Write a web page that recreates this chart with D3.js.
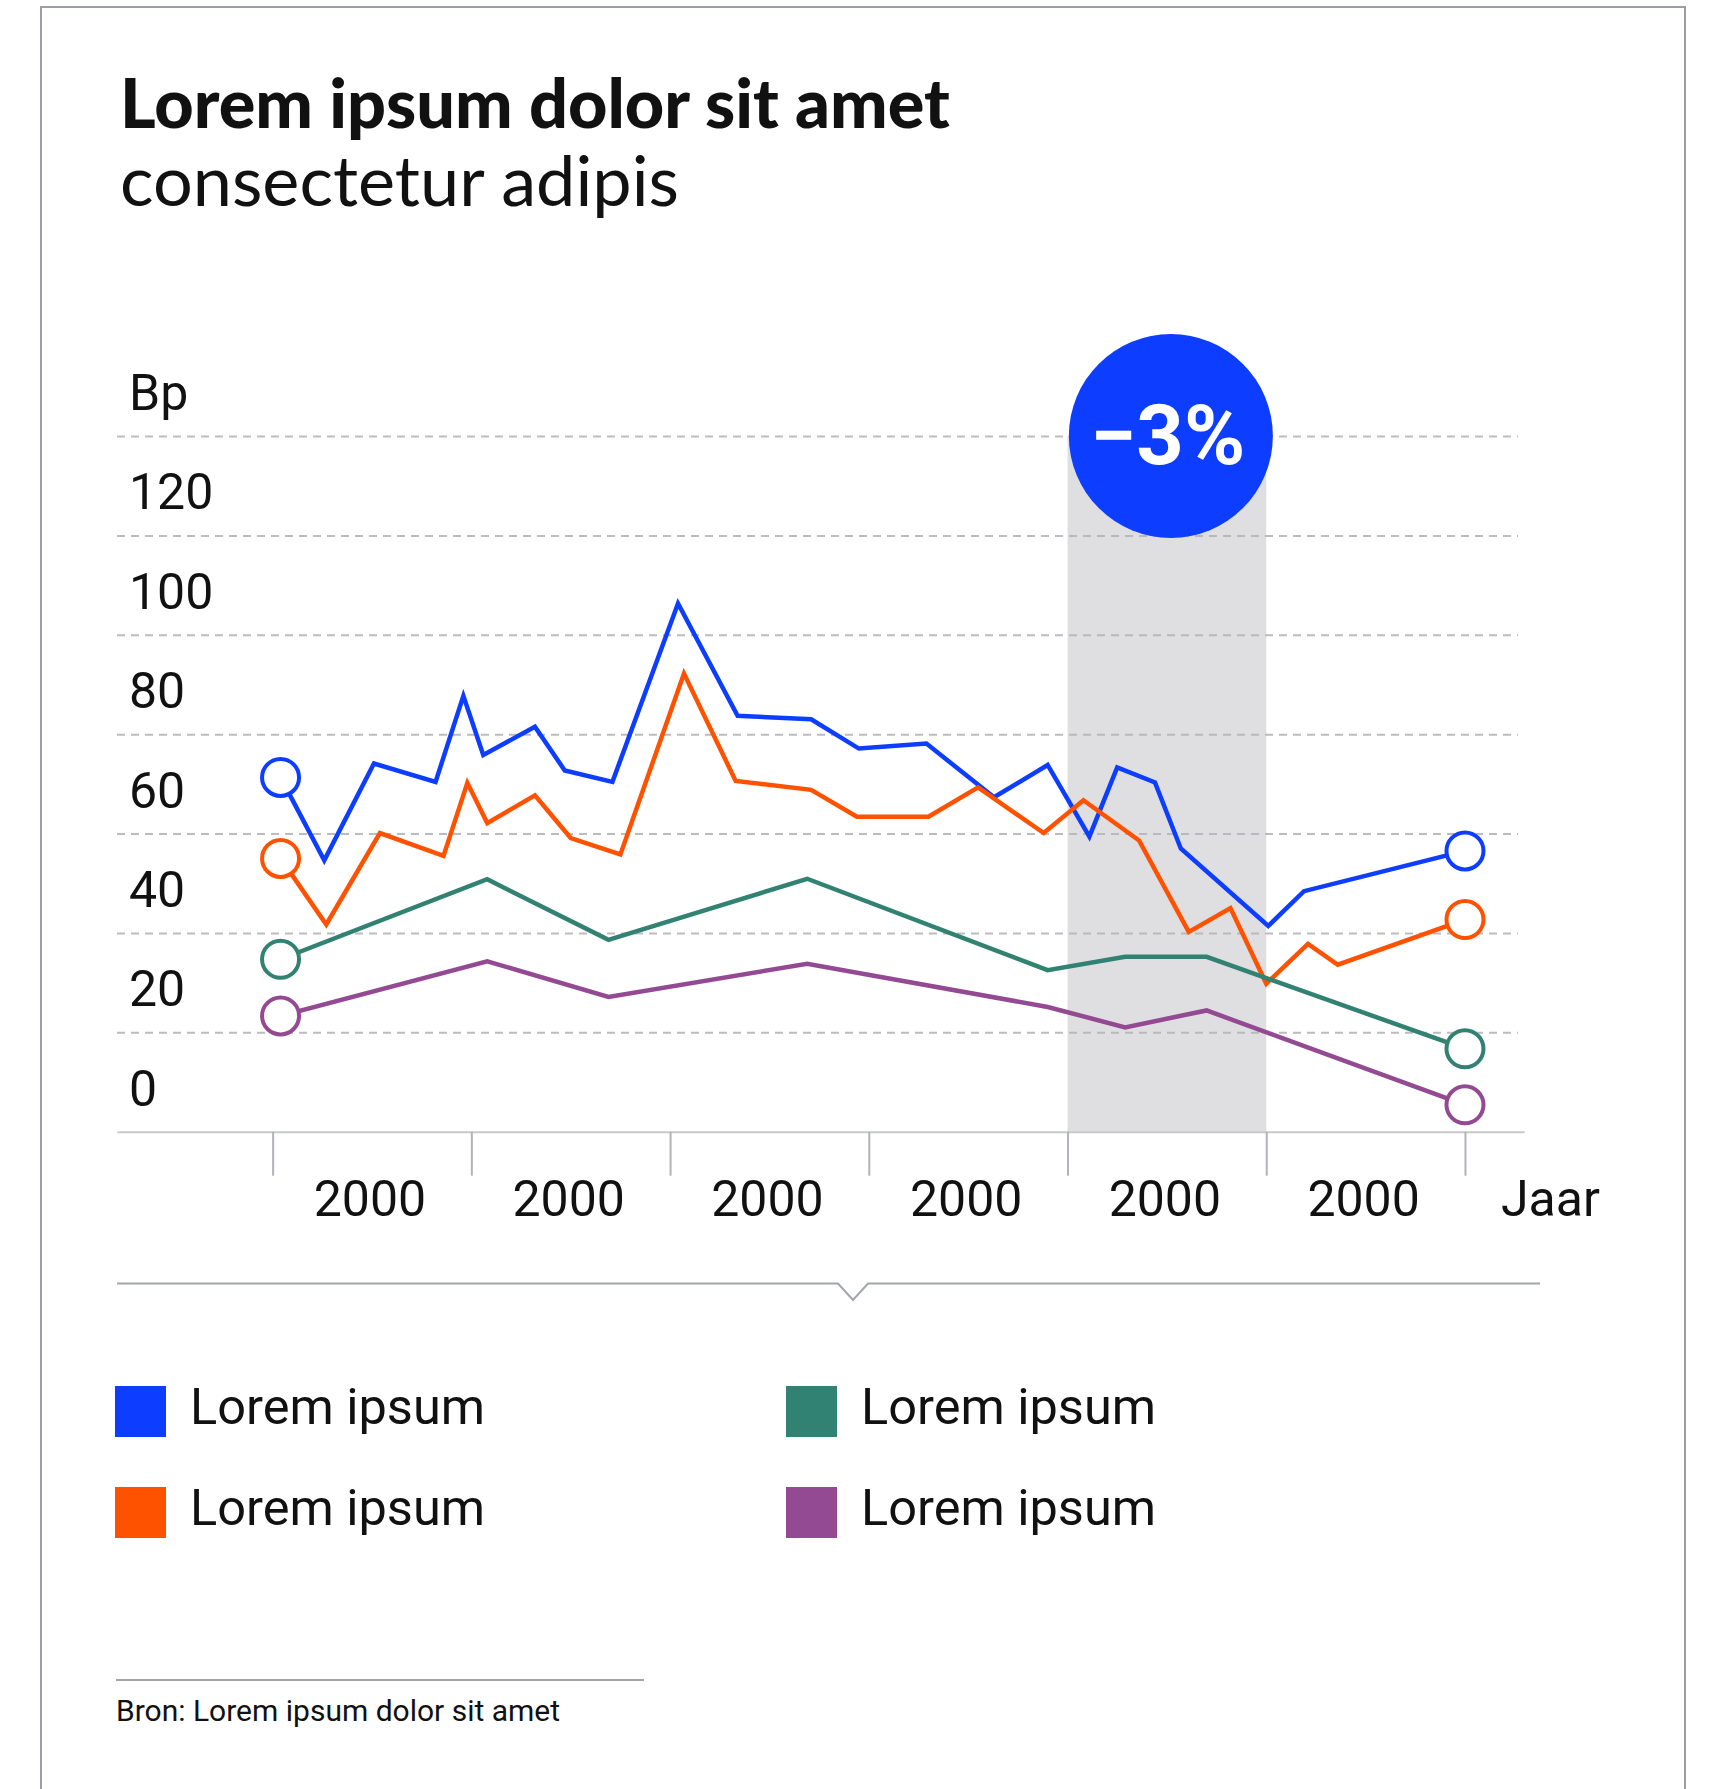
<!DOCTYPE html>
<html>
<head>
<meta charset="utf-8">
<script src="https://cdn.jsdelivr.net/npm/d3@7"></script>
<style>
  body { margin: 0; background: #fff; }
  svg { display: block; }
  text { font-family: Roboto, sans-serif; fill: #111; }
</style>
</head>
<body>
<div id="chart"></div>
<script>
const width = 1711, height = 1789;

// Data
const seriesNames = ["Lorem ipsum", "Lorem ipsum", "Lorem ipsum", "Lorem ipsum"];
const seriesColors = ["#0d3dff", "#ff5200", "#318272", "#934a93"];

const blueX = [0.04, 0.26, 0.51, 0.82, 0.96, 1.06, 1.32, 1.47, 1.71, 2.04, 2.34, 2.71, 2.95, 3.29, 3.63, 3.90, 4.11, 4.25, 4.44, 4.57, 5.01, 5.19, 6.0];
const blueY = [71.3, 54.6, 74.1, 70.4, 87.7, 75.8, 81.5, 72.7, 70.4, 106.3, 83.7, 83.0, 77.1, 78.1, 67.3, 73.8, 59.4, 73.3, 70.3, 57.0, 41.4, 48.4, 56.5];

const orangeX = [0.04, 0.27, 0.54, 0.86, 0.98, 1.08, 1.32, 1.50, 1.75, 2.07, 2.33, 2.71, 2.94, 3.30, 3.55, 3.88, 4.08, 4.36, 4.61, 4.82, 5.00, 5.21, 5.36, 6.0];
const orangeY = [55.0, 41.7, 60.1, 55.5, 70.2, 62.1, 67.7, 59.1, 55.8, 92.2, 70.6, 68.8, 63.4, 63.4, 69.3, 60.1, 66.7, 58.6, 40.2, 45.0, 29.8, 37.8, 33.6, 42.7];

const tealX = [0.04, 1.08, 1.69, 2.69, 3.90, 4.29, 4.70, 6.0];
const tealY = [34.7, 50.8, 38.6, 50.9, 32.5, 35.2, 35.2, 16.7];

const purpleX = [0.04, 1.08, 1.69, 2.69, 3.90, 4.29, 4.70, 6.0];
const purpleY = [23.3, 34.3, 27.1, 33.8, 25.1, 21.0, 24.4, 5.4];

const yTicks = [0, 20, 40, 60, 80, 100, 120];
const yGrid = [20, 40, 60, 80, 100, 120, 140];
const xTicks = [0, 1, 2, 3, 4, 5, 6];
const xLabels = ["2000", "2000", "2000", "2000", "2000", "2000"];
const highlight = [4, 5];
const highlightLabel = "\u22123%";

const series = [
    { name: seriesNames[0], color: seriesColors[0], xs: blueX, ys: blueY },
    { name: seriesNames[1], color: seriesColors[1], xs: orangeX, ys: orangeY },
    { name: seriesNames[2], color: seriesColors[2], xs: tealX, ys: tealY },
    { name: seriesNames[3], color: seriesColors[3], xs: purpleX, ys: purpleY }
].map(s => ({ ...s, points: s.xs.map((x, i) => ({ x, y: s.ys[i] })) }));

const svg = d3.select("#chart")
    .append("svg")
    .attr("width", width)
    .attr("height", height);

// Card border (open at the bottom)
svg.append("path")
    .attr("d", `M41,${height + 5}V7H1685V${height + 5}`)
    .attr("fill", "none")
    .attr("stroke", "#9c9ea6")
    .attr("stroke-width", 2);

// Title and subtitle, fitted to the reference widths
function fitText(sel, target) {
    const size = parseFloat(sel.style("font-size"));
    const w = sel.node().getComputedTextLength();
    sel.style("font-size", `${size * target / w}px`);
}

const title = svg.append("text")
    .attr("x", 120).attr("y", 128)
    .style("font-family", "Lato, sans-serif")
    .style("font-weight", 900)
    .style("font-size", "60px")
    .text("Lorem ipsum dolor sit amet");
fitText(title, 830);

const subtitle = svg.append("text")
    .attr("x", 120).attr("y", 206)
    .style("font-family", "Lato, sans-serif")
    .style("font-weight", 400)
    .style("font-size", "56px")
    .text("consectetur adipis");
fitText(subtitle, 559);

// Scales
const x = d3.scaleLinear().domain([-0.783, 6.297]).range([117, 1524]);
const y = d3.scaleLinear().domain([0, 140]).range([1131.7, 436]);

// Highlight band
svg.append("rect")
    .attr("x", x(highlight[0]))
    .attr("width", x(highlight[1]) - x(highlight[0]))
    .attr("y", y(140))
    .attr("height", y(0) - y(140))
    .attr("fill", "#dfdfe1");

// Gridlines
const grid = svg.append("g")
    .attr("transform", `translate(${x.range()[0]},0)`)
    .call(d3.axisLeft(y).tickValues(yGrid).tickSize(-(x.range()[1] - x.range()[0] - 6)).tickFormat(""));
grid.select(".domain").remove();
grid.selectAll(".tick line")
    .attr("stroke", "#b5b5b9")
    .attr("stroke-opacity", 0.9)
    .attr("stroke-width", 2)
    .attr("stroke-dasharray", "8,6");

// Y labels sit above their gridline
svg.selectAll(".ylabel")
    .data(yTicks)
    .join("text")
    .attr("class", "ylabel")
    .attr("x", 129)
    .attr("y", d => y(d) - 26)
    .style("font-size", "50px")
    .text(d => d);

svg.append("text")
    .attr("x", 129)
    .attr("y", y(140) - 26)
    .style("font-size", "50px")
    .text("Bp");

// X axis
const xAxis = svg.append("g")
    .attr("transform", `translate(0,${y(0)})`)
    .call(d3.axisBottom(x).tickValues(xTicks).tickSize(44).tickSizeOuter(0).tickFormat(""));
xAxis.select(".domain").attr("stroke", "#c6c8cc").attr("stroke-width", 2);
xAxis.selectAll(".tick line").attr("stroke", "#b0b3b8").attr("stroke-width", 2);

svg.selectAll(".xlabel")
    .data(xLabels)
    .join("text")
    .attr("class", "xlabel")
    .attr("x", (d, i) => x(i + 0.5) - 2)
    .attr("y", 1216)
    .attr("text-anchor", "middle")
    .style("font-size", "50px")
    .text(d => d);

svg.append("text")
    .attr("x", 1501)
    .attr("y", 1216)
    .style("font-size", "50px")
    .text("Jaar");

// Lines
const line = d3.line()
    .x(d => x(d.x))
    .y(d => y(d.y));

svg.selectAll(".line")
    .data(series)
    .join("path")
    .attr("class", "line")
    .attr("d", d => line(d.points))
    .attr("fill", "none")
    .attr("stroke", d => d.color)
    .attr("stroke-width", 4.5)
    .attr("stroke-linejoin", "miter");

// Start and end markers
series.forEach(s => {
    const ends = [s.points[0], s.points[s.points.length - 1]];
    svg.selectAll(null)
        .data(ends)
        .join("circle")
        .attr("cx", d => x(d.x))
        .attr("cy", d => y(d.y))
        .attr("r", 18.5)
        .attr("fill", "#fff")
        .attr("stroke", s.color)
        .attr("stroke-width", 4);
});

// Badge
const bx = x(4.52), by = y(140);
svg.append("circle")
    .attr("cx", bx).attr("cy", by).attr("r", 102)
    .attr("fill", "#0d3dff");
svg.append("text")
    .attr("x", bx - 3).attr("y", by + 28)
    .attr("text-anchor", "middle")
    .style("font-size", "83px")
    .style("font-weight", 700)
    .style("fill", "#fff")
    .text(highlightLabel);

// Separator with notch
svg.append("path")
    .attr("d", "M117,1283.5H838L853,1300L868,1283.5H1540")
    .attr("fill", "none")
    .attr("stroke", "#a2a5aa")
    .attr("stroke-width", 2);

// Legend
const legend = svg.selectAll(".legend")
    .data(series)
    .join("g")
    .attr("class", "legend")
    .attr("transform", (d, i) => `translate(${i < 2 ? 115 : 786},${i % 2 === 0 ? 1386 : 1487})`);

legend.append("rect")
    .attr("width", 51)
    .attr("height", 51)
    .attr("fill", d => d.color);

legend.append("text")
    .attr("x", 75)
    .attr("y", 38)
    .style("font-size", "50.5px")
    .text(d => d.name);

// Source
svg.append("line")
    .attr("x1", 116).attr("x2", 644)
    .attr("y1", 1680).attr("y2", 1680)
    .attr("stroke", "#a2a5aa")
    .attr("stroke-width", 2);

svg.append("text")
    .attr("x", 116)
    .attr("y", 1721)
    .style("font-size", "30px")
    .text("Bron: Lorem ipsum dolor sit amet");
</script>
</body>
</html>
